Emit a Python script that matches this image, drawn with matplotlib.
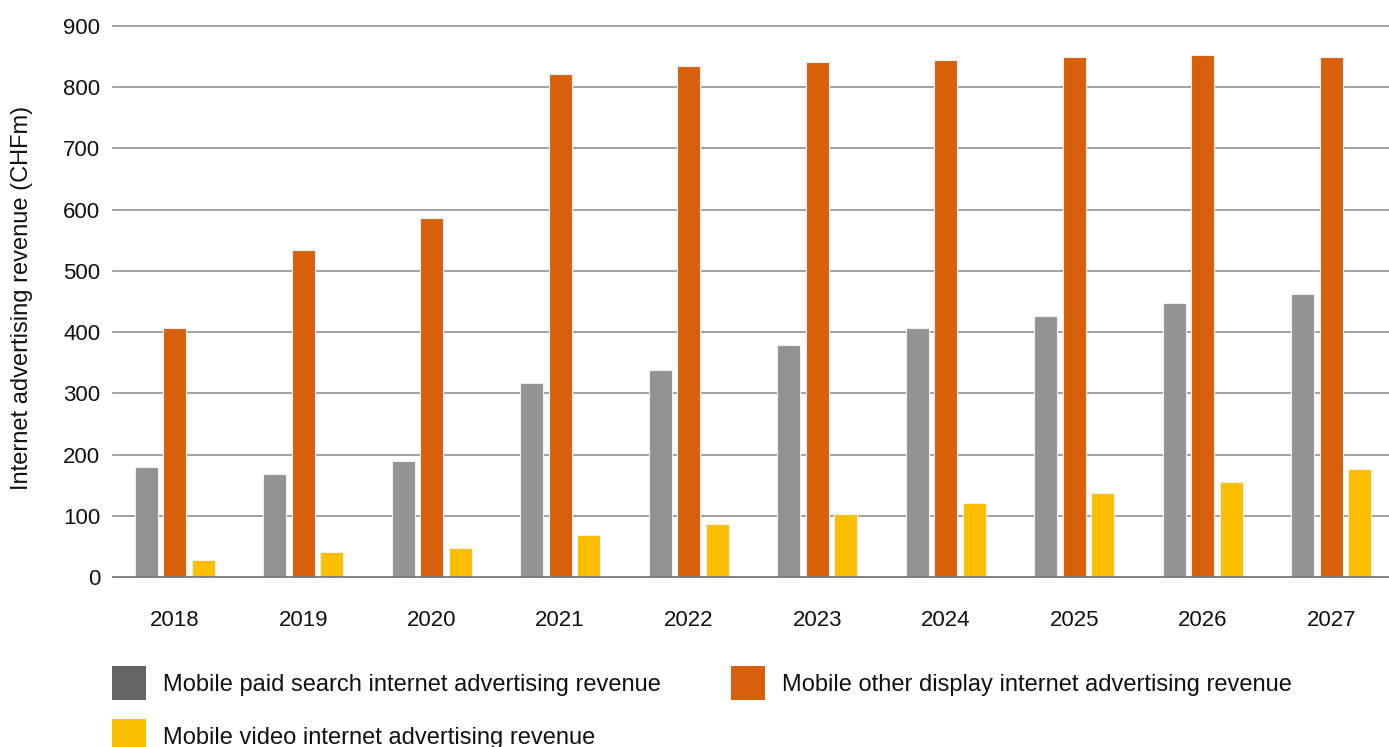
import matplotlib
matplotlib.use("Agg")
import matplotlib.pyplot as plt
from matplotlib.patches import Patch
import numpy as np

plt.rcParams['font.family'] = ['Liberation Sans', 'DejaVu Sans']

years = ['2018', '2019', '2020', '2021', '2022', '2023', '2024', '2025', '2026', '2027']
paid_search = [179, 168, 189, 317, 338, 379, 407, 427, 448, 462]
other_display = [406, 534, 586, 822, 835, 841, 845, 849, 853, 849]
video = [27, 41, 47, 69, 87, 103, 121, 138, 155, 176]

series_labels = [
    'Mobile paid search internet advertising revenue',
    'Mobile other display internet advertising revenue',
    'Mobile video internet advertising revenue',
]
bar_colors = ['#939393', '#d9600a', '#fbbf00']
legend_colors = ['#646464', '#d9600a', '#fbbf00']
y_ticks = [0, 100, 200, 300, 400, 500, 600, 700, 800, 900]

fig = plt.figure(figsize=(13.89, 7.47), dpi=100)
ax = fig.add_axes([113 / 1389, 1 - 577 / 747, 1 - 113 / 1389, (577 - 26) / 747])

x = np.arange(len(years))
width = 0.18
offset = 0.222
for i, (vals, col) in enumerate(zip([paid_search, other_display, video], bar_colors)):
    ax.bar(x + (i - 1) * offset, vals, width, color=col, edgecolor='#f0f0f0',
           linewidth=0.8, zorder=3)

ax.set_xlim(-0.48, len(years) - 0.55)
ax.set_ylim(0, 900)
ax.set_yticks(y_ticks)
ax.set_yticklabels([str(t) for t in y_ticks])
ax.set_xticks(x)
ax.set_xticklabels(years)

for t in y_ticks:
    ax.axhline(t, color='#777777' if t == 0 else '#9a9a9a', linewidth=1.3,
               zorder=1 if t else 4, clip_on=False)

for s in ax.spines.values():
    s.set_visible(False)
ax.tick_params(axis='both', length=0, labelsize=16, colors='#111111')
ax.tick_params(axis='y', pad=9)
ax.tick_params(axis='x', pad=24)

fig.text(22 / 1389, 1 - 298 / 747, 'Internet advertising revenue (CHFm)',
         rotation=90, ha='center', va='center', fontsize=17, color='#111111')

handles = [Patch(facecolor=legend_colors[0]), Patch(facecolor=legend_colors[2]),
           Patch(facecolor=legend_colors[1])]
labels = [series_labels[0], series_labels[2], series_labels[1]]
fig.legend(handles, labels, ncol=2, loc='upper left',
           bbox_to_anchor=(112 / 1389, 1 - 666 / 747), frameon=False,
           fontsize=17, handlelength=1.44, handleheight=1.84, handletextpad=0.72,
           columnspacing=2.95, labelspacing=0.8, borderpad=0, borderaxespad=0,
           labelcolor='#111111')

fig.savefig('out.png', dpi=100)
